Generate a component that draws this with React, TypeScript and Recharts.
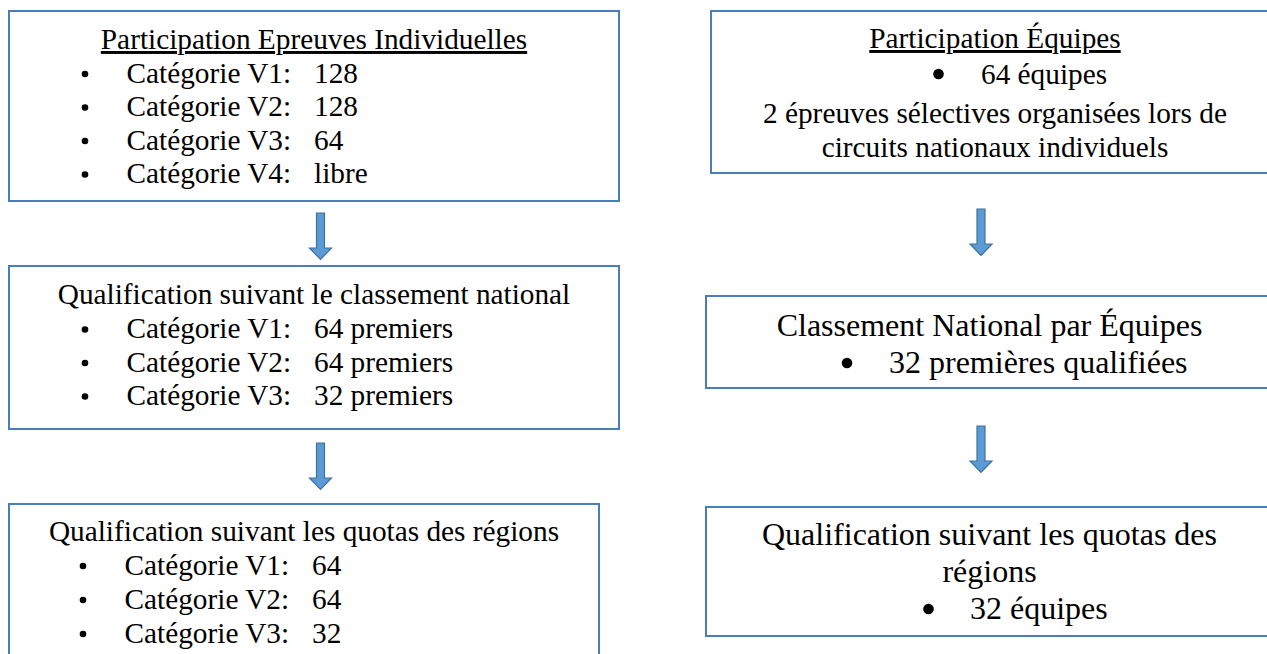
import { ScatterChart, Scatter, XAxis, YAxis, ReferenceArea } from 'recharts'

// texte du schéma
const individualSteps = [
  'Participation Epreuves Individuelles',
  'Qualification suivant le classement national',
  'Qualification suivant les quotas des régions',
]
const categoryLabels = ['Catégorie V1:', 'Catégorie V2:', 'Catégorie V3:', 'Catégorie V4:']
const participationQuota = ['128', '128', '64', 'libre']
const nationalQuota = ['64 premiers', '64 premiers', '32 premiers']
const regionalQuota = ['64', '64', '32']
const individualQuotas = [participationQuota, nationalQuota, regionalQuota]

const teamSteps = [
  ['Participation Équipes'],
  ['Classement National par Équipes'],
  ['Qualification suivant les quotas des', 'régions'],
]
const teamQuota = ['64 équipes', '32 premières qualifiées', '32 équipes']
const teamNote = ['2 épreuves sélectives organisées lors de', 'circuits nationaux individuels']

// mise en page (coordonnées du plan, 1 unité = 1 px)
const W = 1267
const H = 654
const FONT = '"Liberation Serif", "Times New Roman", Times, "DejaVu Serif", serif'
const BORDER = '#4A7EBB'

const leftBoxes = [
  { x1: 9, x2: 619, y1: 11, y2: 201, cx: 314, title: 49, row0: 82.5, step: 33.5 },
  { x1: 9, x2: 619, y1: 266, y2: 429, cx: 314, title: 303.5, row0: 338, step: 33.5 },
  { x1: 9, x2: 599, y1: 504, y2: 700, cx: 304, title: 540.5, row0: 574.5, step: 34 },
]
const rightBoxes = [
  { x1: 711, x2: 1290, y1: 11, y2: 173, cx: 995, size: 29.3, titles: [48], row: 83.5, bullet: 938.5, text: 981 },
  { x1: 706, x2: 1290, y1: 296, y2: 388, cx: 989.5, size: 32, titles: [335.5], row: 372.5, bullet: 847, text: 889 },
  { x1: 706, x2: 1290, y1: 507, y2: 636, cx: 989.5, size: 32, titles: [545, 581.5], row: 618.5, bullet: 928.5, text: 970 },
]
const arrows = [
  { x: 320.5, y: 213 },
  { x: 320.5, y: 443 },
  { x: 981, y: 209 },
  { x: 981, y: 426 },
]

type Line = { x: number; y: number; text: string; size: number; anchor: string; underline?: boolean }
type Dot = { x: number; y: number; r: number }

const lines: Line[] = []
const dots: Dot[] = []

leftBoxes.forEach((b, i) => {
  lines.push({ x: b.cx, y: b.title, text: individualSteps[i], size: 29.3, anchor: 'middle', underline: i === 0 })
  individualQuotas[i].forEach((v, j) => {
    const y = b.row0 + j * b.step
    dots.push({ x: i === 2 ? 83 : 85, y: y - 8.5, r: 3.3 })
    lines.push({ x: i === 2 ? 124.5 : 126.5, y, text: categoryLabels[j], size: 29.3, anchor: 'start' })
    lines.push({ x: i === 2 ? 312 : 314, y, text: v, size: 29.3, anchor: 'start' })
  })
})

rightBoxes.forEach((b, i) => {
  teamSteps[i].forEach((t, k) => {
    lines.push({ x: b.cx, y: b.titles[k], text: t, size: b.size, anchor: 'middle', underline: i === 0 })
  })
  dots.push({ x: b.bullet, y: b.row - 9.5, r: 5.3 })
  lines.push({ x: b.text, y: b.row, text: teamQuota[i], size: b.size, anchor: 'start' })
  if (i === 0) {
    teamNote.forEach((t, k) => {
      lines.push({ x: b.cx, y: 123 + k * 34, text: t, size: 29.3, anchor: 'middle' })
    })
  }
})

const TextShape = (p: any) => {
  const d: Line = p.payload
  return (
    <text
      x={p.cx}
      y={p.cy}
      textAnchor={d.anchor}
      fill="#000"
      style={{
        fontFamily: FONT,
        fontSize: d.size,
        textDecoration: d.underline ? 'underline' : 'none',
      }}
    >
      {d.text}
    </text>
  )
}

const DotShape = (p: any) => <circle cx={p.cx} cy={p.cy} r={p.payload.r} fill="#000" />

const ArrowShape = (p: any) => {
  const { cx, cy } = p
  const shaft = 4
  const head = 11
  const path = `M${cx - shaft},${cy} L${cx + shaft},${cy} L${cx + shaft},${cy + 35} L${cx + head},${cy + 35} L${cx},${cy + 46.5} L${cx - head},${cy + 35} L${cx - shaft},${cy + 35} Z`
  return <path d={path} fill="#5B9BD5" stroke="#41719C" strokeWidth={1.2} />
}

export default function App() {
  return (
    <div style={{ position: 'absolute', left: 0, top: 0, width: W, height: H, background: '#fff', fontFamily: FONT }}>
      <ScatterChart width={W} height={H} margin={{ top: 0, right: 0, bottom: 0, left: 0 }}>
        <XAxis type="number" dataKey="x" domain={[0, W]} hide />
        <YAxis type="number" dataKey="y" domain={[0, H]} reversed hide />
        {[...leftBoxes, ...rightBoxes].map((b, i) => (
          <ReferenceArea
            key={`box-${i}`}
            x1={b.x1}
            x2={b.x2}
            y1={b.y1}
            y2={b.y2}
            fill="#fff"
            fillOpacity={1}
            stroke={BORDER}
            strokeWidth={2}
            ifOverflow="hidden"
          />
        ))}
        <Scatter data={arrows} shape={ArrowShape} isAnimationActive={false} />
        <Scatter data={dots} shape={DotShape} isAnimationActive={false} />
        <Scatter data={lines} shape={TextShape} isAnimationActive={false} />
      </ScatterChart>
    </div>
  )
}
